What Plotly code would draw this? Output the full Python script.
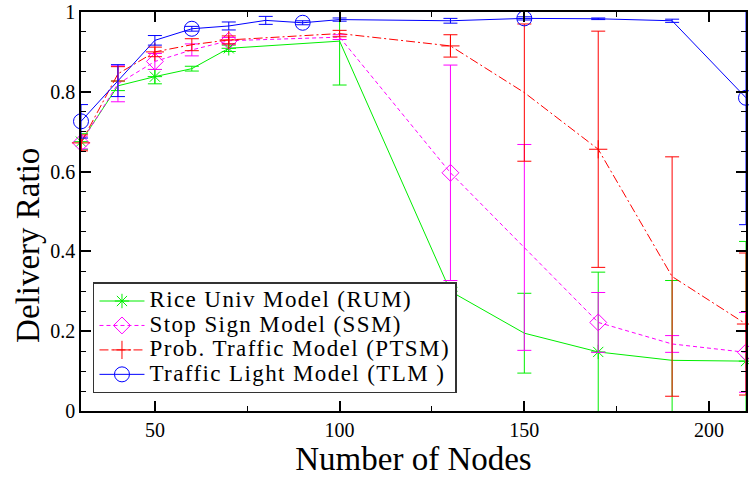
import plotly.graph_objects as go

# ---- data ----
x_long = [30, 40, 50, 60, 70, 80, 90, 100, 130, 150, 170, 190, 210]
x_short = [30, 40, 50, 60, 70, 100, 130, 150, 170, 190, 210]

rum_y = [0.675, 0.815, 0.838, 0.858, 0.909, 0.927, 0.300, 0.195, 0.148, 0.127, 0.125]
rum_err = [0.02, 0.012, 0.018, 0.006, 0.008, 0.11, 0.01, 0.10, 0.20, 0.20, 0.30]

ssm_y = [0.672, 0.820, 0.876, 0.905, 0.928, 0.937, 0.597, 0.410, 0.222, 0.168, 0.147]
ssm_err = [0.015, 0.045, 0.02, 0.015, 0.008, 0.006, 0.27, 0.258, 0.075, 0.021, 0.10]

ptsm_y = [0.672, 0.845, 0.900, 0.918, 0.930, 0.946, 0.915, 0.798, 0.656, 0.337, 0.218]
ptsm_err = [0.02, 0.018, 0.012, 0.015, 0.010, 0.008, 0.028, 0.172, 0.296, 0.30, 0.178]

tlm_y = [0.726, 0.828, 0.929, 0.958, 0.965, 0.979, 0.973, 0.981, 0.978, 0.984, 0.983, 0.978, 0.785]
tlm_err = [0.042, 0.04, 0.012, 0.006, 0.01, 0.01, 0.005, 0.004, 0.006, 0.004, 0.002, 0.004, 0.318]

names = ["Rice Univ Model (RUM)", "Stop Sign Model (SSM)",
         "Prob. Traffic Model (PTSM)", "Traffic Light Model (TLM )"]

x_title = "Number of Nodes"
y_title = "Delivery Ratio"
x_ticks = [50, 100, 150, 200]
y_ticks = [0, 0.2, 0.4, 0.6, 0.8, 1.0]
y_ticktext = ["0", "0.2", "0.4", "0.6", "0.8", "1"]

series = [
    dict(x=x_short, y=rum_y, e=rum_err, name=names[0], color="#00ee00", dash="solid",
         symbol="asterisk-open", size=12, every=2),
    dict(x=x_short, y=ssm_y, e=ssm_err, name=names[1], color="#ff00ff", dash="4px,3px",
         symbol="diamond-open", size=13, every=2),
    dict(x=x_short, y=ptsm_y, e=ptsm_err, name=names[2], color="#ff0000", dash="9px,3px,2px,3px",
         symbol="cross-thin-open", size=13, every=2),
    dict(x=x_long, y=tlm_y, e=tlm_err, name=names[3], color="#0000ff", dash="solid",
         symbol="circle-open", size=15, every=3),
]

LEG_SPAN = '<span style="font-size:23px;letter-spacing:1.4px">{}</span>'

fig = go.Figure()
for s in series:
    fig.add_trace(go.Scatter(
        x=s["x"], y=s["y"], mode="lines", name=s["name"], legendgroup=s["name"],
        showlegend=False, cliponaxis=True,
        line=dict(color=s["color"], width=1, dash=s["dash"]),
        error_y=dict(type="data", array=s["e"], visible=True, color=s["color"],
                     thickness=1, width=7),
    ))
    idx = list(range(0, len(s["x"]), s["every"]))
    fig.add_trace(go.Scatter(
        x=[s["x"][i] for i in idx], y=[s["y"][i] for i in idx], mode="markers",
        legendgroup=s["name"], showlegend=False, cliponaxis=False,
        marker=dict(symbol=s["symbol"], size=s["size"], color=s["color"],
                    line=dict(color=s["color"], width=1)),
    ))
    fig.add_trace(go.Scatter(
        x=[None], y=[None], mode="lines+markers", name=LEG_SPAN.format(s["name"]),
        legendgroup=s["name"],
        line=dict(color=s["color"], width=1, dash=s["dash"]),
        marker=dict(symbol=s["symbol"], size=s["size"], color=s["color"],
                    line=dict(color=s["color"], width=1)),
    ))

font_family = "Liberation Serif"
axis_common = dict(
    showline=True, linecolor="black", linewidth=1.5, mirror="allticks",
    ticks="inside", ticklen=10, tickwidth=1.5, tickcolor="black",
    showgrid=False, zeroline=False,
    tickfont=dict(family=font_family, size=20, color="black"),
)

fig.update_xaxes(
    range=[30, 210], tickvals=x_ticks,
    minor=dict(dtick=25, tick0=0, ticks="inside", ticklen=5, tickcolor="black", tickwidth=1),
    title=dict(text=x_title, font=dict(family=font_family, size=33, color="black"),
               standoff=12),
    **axis_common,
)
fig.update_yaxes(
    range=[0, 1], tickvals=y_ticks, ticktext=y_ticktext,
    minor=dict(dtick=0.05, tick0=0, ticks="inside", ticklen=5, tickcolor="black", tickwidth=1),
    **axis_common,
)

fig.add_annotation(
    text=y_title, textangle=-90, xref="paper", yref="paper",
    x=-0.079, y=0.415, xanchor="center", yanchor="middle", showarrow=False,
    font=dict(family=font_family, size=33, color="black"),
)

fig.update_layout(
    width=749, height=477,
    margin=dict(l=81, r=1, t=12, b=62),
    paper_bgcolor="white", plot_bgcolor="white",
    font=dict(family=font_family, color="black"),
    legend=dict(
        x=0.018, y=0.3226, xanchor="left", yanchor="top",
        bgcolor="white", bordercolor="#333333", borderwidth=1.5,
        font=dict(family=font_family, size=16.5, color="black"),
        tracegroupgap=0, itemwidth=45,
    ),
)

fig.write_html("out.html")
